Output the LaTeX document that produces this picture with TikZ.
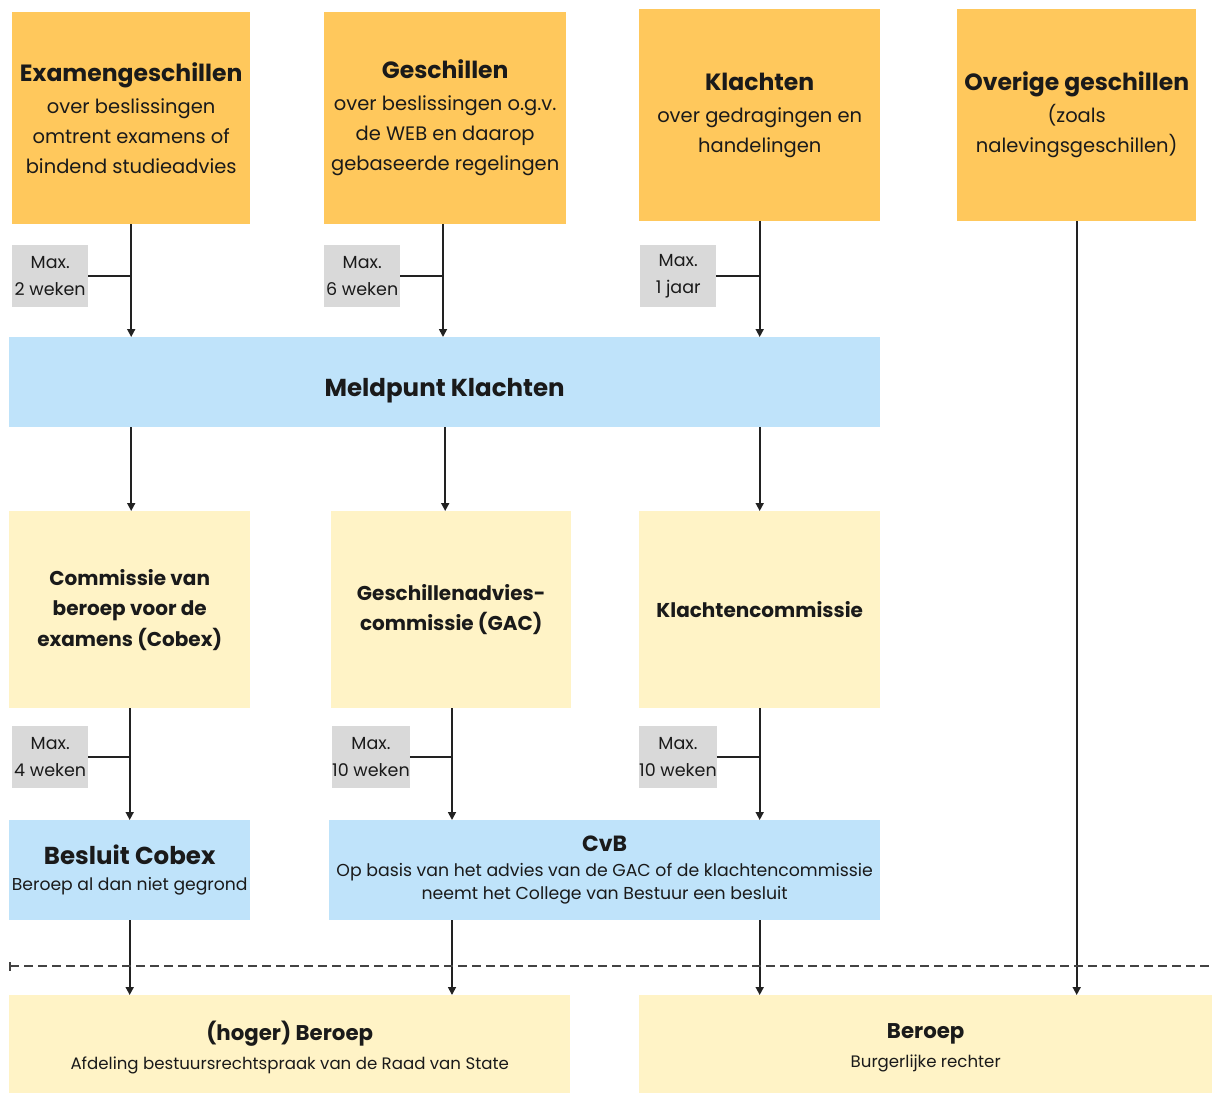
\documentclass[tikz,border=0pt]{standalone}
\usepackage{fontspec}
\setmainfont{Poppins}
\usetikzlibrary{arrows.meta}

\definecolor{oranje}{HTML}{FFC85C}
\definecolor{geel}{HTML}{FFF3C6}
\definecolor{lichtblauw}{HTML}{BFE3FA}
\definecolor{grijs}{HTML}{D9D9D9}
\definecolor{txt}{HTML}{1A1A1A}
\definecolor{lijn}{HTML}{222222}

\newcommand{\fs}[2]{\fontsize{#1}{#2}\selectfont}

\tikzset{
    box/.style={anchor=north west, inner sep=0pt, align=center, text=txt},
    top/.style={box, fill=oranje, minimum height=212pt, font=\fs{19.5}{30}},
    mid/.style={box, fill=geel, minimum height=197pt, minimum width=241pt, font=\bfseries\fs{20}{30.5}},
    blauw/.style={box, fill=lichtblauw},
    maxl/.style={box, fill=grijs, minimum width=76pt, minimum height=62pt, font=\fs{17.5}{27}},
    pijl/.style={color=lijn, line width=1.7pt, -{Triangle[length=8pt,width=8pt]}},
}

\begin{document}
\begin{tikzpicture}[x=1pt, y=-1pt]
    \useasboundingbox (0,0) rectangle (1212,1092);

    % bovenste rij
    \node (e1) [top, minimum width=238pt] at (12,12)
        {{\bfseries\fs{23.5}{30}Examengeschillen}\\[2pt]
         over beslissingen\\omtrent examens of\\bindend studieadvies};
    \node (g1) [top, minimum width=242pt] at (324,12)
        {{\bfseries\fs{23.5}{30}Geschillen}\\[2pt]
         over beslissingen o.g.v.\\de WEB en daarop\\gebaseerde regelingen};
    \node (k1) [top, minimum width=241pt] at (639,9)
        {{\bfseries\fs{23.5}{30}Klachten}\\[2pt]
         over gedragingen en\\handelingen};
    \node (o1) [top, minimum width=239pt] at (957,9)
        {{\bfseries\fs{23.5}{30}Overige geschillen}\\[2pt]
         (zoals\\nalevingsgeschillen)};

    \node (m1) [maxl] at (12,245) {Max.\\2 weken};
    \node (m2) [maxl] at (324,245) {Max.\\6 weken};
    \node (m3) [maxl] at (640,245) {Max.\\1 jaar};

    \node (mk) [blauw, minimum width=871pt, minimum height=90pt, text height=34pt, text depth=5pt,
                font=\bfseries\fs{24.5}{30}] at (9,337)
        {Meldpunt Klachten};

    % commissies
    \node (cob) [mid] at (9,511) {Commissie van\\beroep voor de\\examens (Cobex)};
    \node (gac) [mid, minimum width=240pt] at (331,511) {Geschillenadvies-\\commissie (GAC)};
    \node (kc) [mid] at (639,511) {Klachtencommissie};

    \node (m4) [maxl] at (12,726) {Max.\\4 weken};
    \node (m5) [maxl, minimum width=77pt] at (332,726) {Max.\\10 weken};
    \node (m6) [maxl] at (639,726) {Max.\\10 weken};

    % besluiten
    \node (bc) [blauw, minimum width=241pt, minimum height=100pt, font=\fs{17.2}{26}] at (9,820)
        {{\bfseries\fs{24.5}{26}Besluit Cobex}\\[0pt]Beroep al dan niet gegrond};
    \node (cvb) [blauw, minimum width=551pt, minimum height=100pt, font=\fs{17.3}{23}] at (329,820)
        {{\bfseries\fs{22}{23}CvB}\\[2pt]
         Op basis van het advies van de GAC of de klachtencommissie\\
         neemt het College van Bestuur een besluit};

    % beroep
    \node (hb) [box, fill=geel, minimum width=561pt, minimum height=105pt, font=\fs{16.6}{29}] at (9,995)
        {{\bfseries\fs{21.3}{29}(hoger) Beroep}\\Afdeling bestuursrechtspraak van de Raad van State};
    \node (br) [box, fill=geel, minimum width=573pt, minimum height=105pt, font=\fs{16.6}{29}] at (639,995)
        {{\bfseries\fs{21.3}{29}Beroep}\\Burgerlijke rechter};

    % pijlen
    \path [pijl] (e1.south) edge (e1.south |- mk.north)
                 (g1.south -| 443,0) edge (mk.north -| 443,0)
                 (k1.south) edge (k1.south |- mk.north)
                 (mk.south -| e1.south) edge (cob.north -| e1.south)
                 (mk.south -| g1.south) edge (gac.north -| g1.south)
                 (mk.south -| k1.south) edge (kc.north)
                 (cob.south) edge (bc.north)
                 (gac.south -| 452,0) edge (cvb.north -| 452,0)
                 (kc.south) edge (cvb.north -| kc.south)
                 (bc.south) edge (hb.north -| bc.south)
                 (cvb.south -| 452,0) edge (hb.north -| 452,0)
                 (cvb.south -| kc.south) edge (br.north -| kc.south)
                 (o1.south) edge (br.north -| o1.south);

    \draw [lijn, line width=1.7pt] (m1.east) -- (m1.east -| e1.south)
                                   (m2.east) -- (m2.east -| 443,0)
                                   (m3.east) -- (m3.east -| k1.south)
                                   (m4.east) -- (m4.east -| cob.south)
                                   (m5.east) -- (m5.east -| 452,0)
                                   (m6.east) -- (m6.east -| kc.south);

    % scheiding
    \coordinate (sl) at (9,966);
    \coordinate (sr) at (1212,966);
    \draw [draw=lijn!85, line width=1.8pt, dash pattern=on 9pt off 5pt, {Bar[width=9pt]}-] (sl) -- (sr);
\end{tikzpicture}
\end{document}
